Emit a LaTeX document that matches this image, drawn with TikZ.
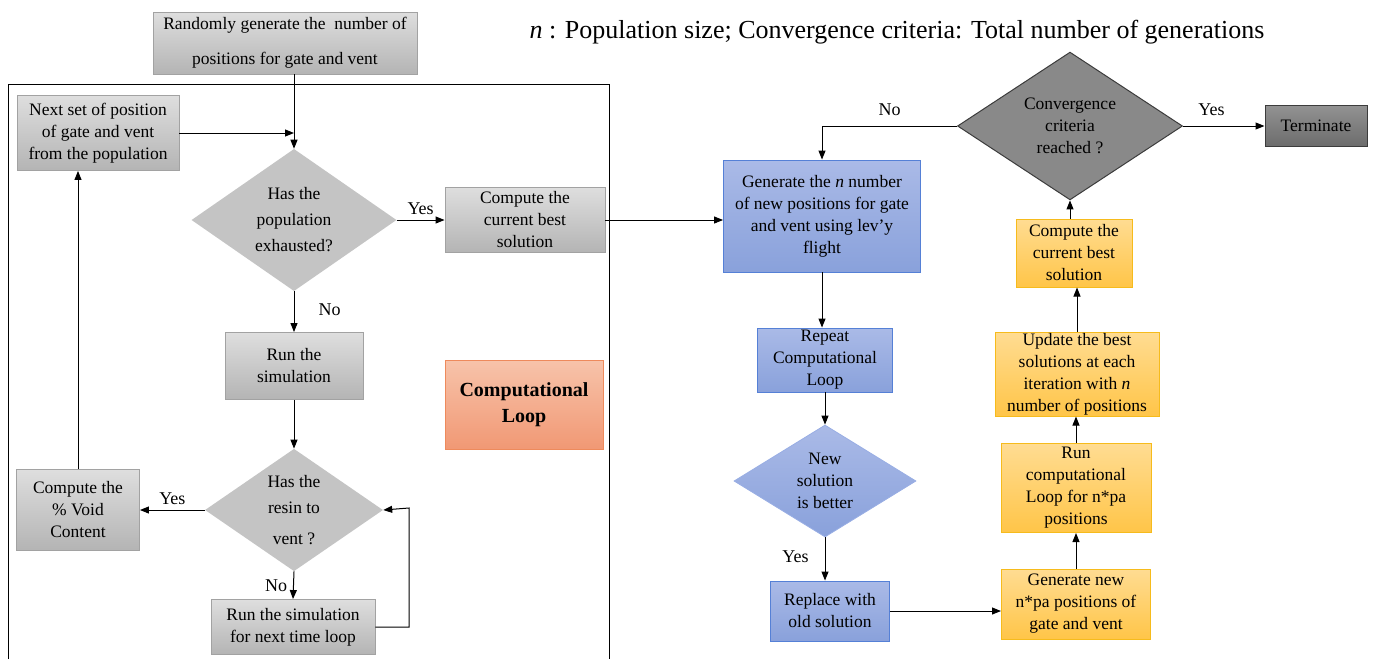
\documentclass[tikz,border=0pt]{standalone}
\usepackage{fontspec}
\setmainfont{Liberation Serif}
\usetikzlibrary{shapes.geometric,arrows.meta}

\definecolor{graytop}{HTML}{DEDEDE}
\definecolor{graybot}{HTML}{B4B4B4}
\definecolor{grayedge}{HTML}{A2A2A2}
\definecolor{diagray}{HTML}{C4C4C4}
\definecolor{bluetop}{HTML}{AABAE7}
\definecolor{bluebot}{HTML}{89A1DB}
\definecolor{blueedge}{HTML}{5580D6}
\definecolor{orangetop}{HTML}{FFDC92}
\definecolor{orangebot}{HTML}{FFC548}
\definecolor{orangeedge}{HTML}{F6BB1C}
\definecolor{salmontop}{HTML}{F7C3AA}
\definecolor{salmonbot}{HTML}{F19874}
\definecolor{salmonedge}{HTML}{EE8A5C}
\definecolor{darktop}{HTML}{929292}
\definecolor{darkbot}{HTML}{6C6C6C}
\definecolor{darkedge}{HTML}{3C3C3C}
\definecolor{convfill}{HTML}{898989}

\tikzset{
  base/.style={align=center, inner sep=1pt, text=black,
    font=\fontsize{17.5}{22}\selectfont},
  graybox/.style={base, rectangle, draw=grayedge, line width=0.9pt,
    top color=graytop, bottom color=graybot},
  bluebox/.style={base, rectangle, draw=blueedge, line width=0.9pt,
    top color=bluetop, bottom color=bluebot},
  orangebox/.style={base, rectangle, draw=orangeedge, line width=1pt,
    top color=orangetop, bottom color=orangebot},
  darkbox/.style={base, rectangle, draw=darkedge, line width=1pt,
    top color=darktop, bottom color=darkbot},
  graydia/.style={base, diamond, inner sep=0pt, fill=diagray,
    font=\fontsize{17.5}{26}\selectfont},
  bluedia/.style={base, diamond, inner sep=0pt, draw=bluetop!80!blueedge,
    line width=0.8pt, top color=bluetop, bottom color=bluebot},
  darkdia/.style={base, diamond, inner sep=0pt, draw=darkedge,
    line width=1pt, fill=convfill},
  arr/.style={-{Triangle[length=9pt,width=7pt]}, line width=1pt, draw=black},
  lbl/.style={font=\fontsize{18}{22}\selectfont, inner sep=2pt}
}

\begin{document}
\begin{tikzpicture}[x=1pt,y=-1pt]
\useasboundingbox (0,0) rectangle (1375,659);

% frame of the computational loop
\draw[line width=1pt] (8,659) -- (8,84) -- (609,84) -- (609,659);

% heading
\node[font=\fontsize{26}{30}\selectfont, inner sep=0pt] (caption) at (897,32)
  {\textit{n} : Population size; Convergence criteria: Total number of generations};

% left part
\node[graybox, minimum width=264, minimum height=62,
      font=\fontsize{17.5}{35}\selectfont] (rand) at (285,43)
  {Randomly generate the \ number of\\positions for gate and vent};
\node[graybox, minimum width=162, minimum height=75] (next) at (98,133)
  {Next set of position\\of gate and vent\\from the population};
\node[graydia, minimum width=205, minimum height=137] (d1) at (294,220)
  {Has the\\population\\exhausted?};
\node[graybox, minimum width=160, minimum height=65] (best1) at (525,220)
  {Compute the\\current best\\solution};
\node[graybox, minimum width=138, minimum height=67] (sim) at (294,366)
  {Run the\\simulation};
\node[graydia, minimum width=178, minimum height=115] (d2) at (294,510)
  {Has the\\resin to\\[5pt]vent ?};
\node[graybox, minimum width=123, minimum height=81] (void) at (78,510)
  {Compute the\\\% Void\\Content};
\node[graybox, minimum width=164, minimum height=55] (nt) at (293,627)
  {Run the simulation\\for next time loop};
\node[base, rectangle, draw=salmonedge, line width=1pt,
      top color=salmontop, bottom color=salmonbot,
      minimum width=158, minimum height=89,
      font=\bfseries\fontsize{20}{26}\selectfont] (cl) at (524,405)
  {Computational\\Loop};
\coordinate (loopx) at (409,508);

% right part
\node[bluebox, minimum width=197, minimum height=112] (gen) at (822,216)
  {Generate the \textit{n} number\\of new positions for gate\\and vent using lev’y\\flight};
\node[darkdia, minimum width=225, minimum height=103] (conv) at (1070,126)
  {Convergence\\criteria\\reached ?};
\node[darkbox, minimum width=102, minimum height=41] (term) at (1316,126)
  {Terminate};
\node[bluebox, minimum width=135, minimum height=64] (rep) at (825,360)
  {Repeat\\Computational\\Loop};
\node[bluedia, minimum width=182, minimum height=93] (ns) at (825,481)
  {New\\solution\\is better};
\node[bluebox, minimum width=119, minimum height=60] (repl) at (830,611)
  {Replace with\\old solution};
\node[orangebox, minimum width=149, minimum height=70] (gnew) at (1076,604)
  {Generate new\\n*pa positions of\\gate and vent};
\node[orangebox, minimum width=150, minimum height=89] (runc) at (1076,488)
  {Run\\computational\\Loop for n*pa\\positions};
\node[orangebox, minimum width=164, minimum height=84] (upd) at (1077,374)
  {Update the best\\solutions at each\\iteration with \textit{n}\\number of positions};
\node[orangebox, minimum width=116, minimum height=68] (best2) at (1074,253)
  {Compute the\\current best\\solution};

% connectors, left part
\draw[arr] (d1.north |- rand.south) -- (d1.north);
\draw[arr] (next.east) -- (next.east -| d1.north);
\draw[arr] (d1.east) -- (best1.west) node[lbl, midway, above=3pt] {Yes};
\draw[arr] (best1.east) -- (best1.east -| gen.west);
\draw[arr] (d1.south) -- (sim.north) node[lbl, pos=0.45, right=22pt] {No};
\draw[arr] (sim.south) -- (d2.north);
\draw[arr] (d2.west) -- (void.east) node[lbl, midway, above=3pt] {Yes};
\draw[arr] (void.north) -- (void.north |- next.south);
\draw[arr] (d2.south) -- (nt.north) node[lbl, midway, left=4pt] {No};
\draw[arr] (nt.east) -- (nt.east -| loopx) -- (loopx) -- (d2.east);

% connectors, right part
\draw[arr] (conv.west) -| (gen.north) node[lbl, pos=0.25, above=8pt] {No};
\draw[arr] (conv.east) -- (term.west) node[lbl, pos=0.35, above=8pt] {Yes};
\draw[arr] (gen.south) -- (gen.south |- rep.north);
\draw[arr] (rep.south) -- (ns.north);
\draw[arr] (ns.south) -- (ns.south |- repl.north) node[lbl, pos=0.45, left=14pt] {Yes};
\draw[arr] (repl.east) -- (repl.east -| gnew.west);
\draw[arr] (gnew.north) -- (gnew.north |- runc.south);
\draw[arr] (runc.north) -- (runc.north |- upd.south);
\draw[arr] (upd.north) -- (upd.north |- best2.south);
\draw[arr] (best2.north -| conv.south) -- (conv.south);
\end{tikzpicture}
\end{document}
